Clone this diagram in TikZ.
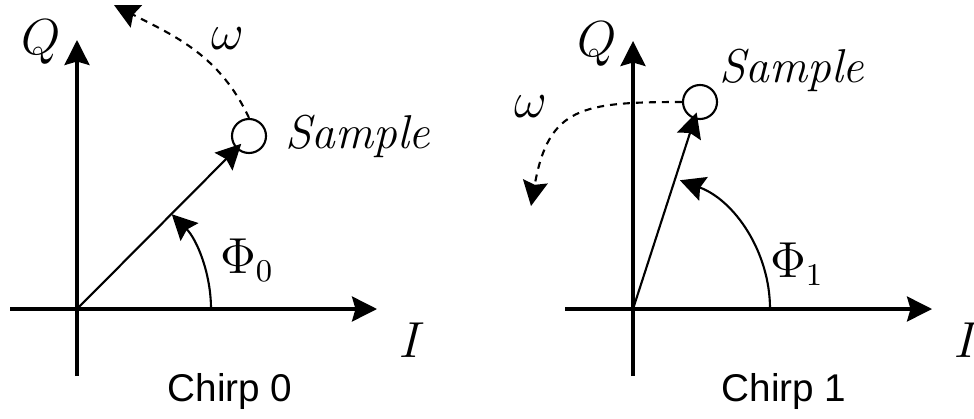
\documentclass[tikz,border=0pt]{standalone}
\usepackage{fontspec}
\setsansfont{Liberation Sans}
\usepackage{tikz}
\usetikzlibrary{arrows.meta,positioning}

\begin{document}
\begin{tikzpicture}[
			x=0.01cm, y=0.01cm,
			font=\fontsize{13.5}{16}\selectfont,
			axis/.style={-{Stealth[length=2.5mm, width=2.5mm, inset=0.35mm]}, line width=0.9pt},
			vec/.style={-{Stealth[length=2.5mm, width=2.5mm, inset=0.35mm]}, line width=0.6pt},
			rot/.style={vec, dash pattern=on 0.7mm off 0.6mm},
			smp/.style={draw, circle, line width=0.6pt, minimum size=3.4mm, inner sep=0pt},
			lbl/.style={font=\fontsize{13.5}{16}\selectfont\itshape},
			chirp/.style={font=\sffamily\fontsize{11}{13}\selectfont}
			]
			\useasboundingbox (0,0) rectangle (974,418);

			% Chirp 0
			\coordinate (o0) at (77,109);
			\coordinate (xl0) at (10,109);
			\coordinate (xr0) at (377,109);
			\coordinate (yb0) at (77,42);
			\coordinate (yt0) at (77,378);
			\coordinate (a0) at (211,109);
			\coordinate (w0) at (114,413);
			\draw[axis] (xl0) -- (xr0);
			\draw[axis] (yb0) -- (yt0);
			\node (q0) at (41,376) {$Q$};
			\node (i0) at (412,78) {$I$};
			\node[chirp] (c0) at (230,27) {Chirp 0};
			\node[smp] (s0) at (249,282) {};
			\node[lbl, right=0.06cm of s0] (t0) {Sample};
			\node (p0) at (247,158) {$\Phi_0$};
			\node (om0) at (228,379) {$\omega$};
			\draw[vec, shorten >=1.1mm] (o0) -- (s0.center);
			\draw[vec] (a0) arc[start angle=0, end angle=45, radius=134];
			\draw[rot] (s0.north) to[out=115, in=-27] (w0);

			% Chirp 1
			\coordinate (o1) at (633,109);
			\coordinate (xl1) at (565,109);
			\coordinate (xr1) at (932,109);
			\coordinate (yb1) at (633,42);
			\coordinate (yt1) at (633,377);
			\coordinate (a1) at (770,109);
			\coordinate (w1) at (531,212);
			\draw[axis] (xl1) -- (xr1);
			\draw[axis] (yb1) -- (yt1);
			\node (q1) at (597,374) {$Q$};
			\node (i1) at (967,78) {$I$};
			\node[chirp] (c1) at (784,27) {Chirp 1};
			\node[smp] (s1) at (700,316) {};
			\node[lbl, anchor=west] (t1) at (707,348) {Sample};
			\node (p1) at (797,154) {$\Phi_1$};
			\node (om1) at (531,311) {$\omega$};
			\draw[vec, shorten >=1.1mm] (o1) -- (s1.center);
			\draw[vec] (a1) arc[start angle=0, end angle=70, radius=137];
			\draw[rot] (s1.west) to[out=180, in=80, looseness=1.4] (w1);
		\end{tikzpicture}
\end{document}
